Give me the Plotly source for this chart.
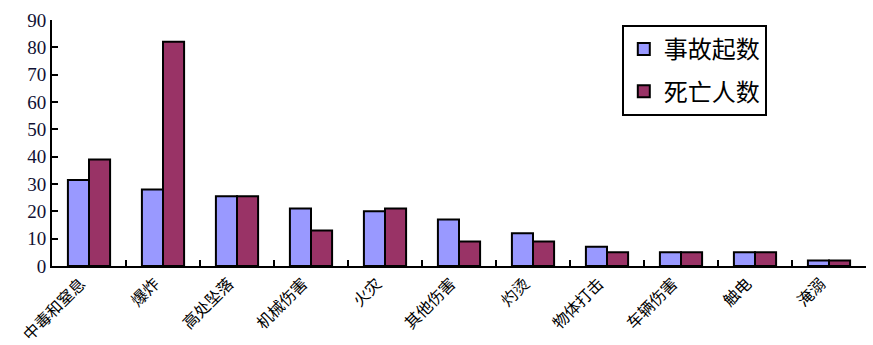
import plotly.graph_objects as go

categories = ["中毒和窒息", "爆炸", "高处坠落", "机械伤害", "火灾", "其他伤害",
              "灼烫", "物体打击", "车辆伤害", "触电", "淹溺"]
accidents = [31.5, 28, 25.5, 21, 20, 17, 12, 7, 5, 5, 2]
deaths = [39, 82, 25.5, 13, 21, 9, 9, 5, 5, 5, 2]
y_ticks = [0, 10, 20, 30, 40, 50, 60, 70, 80, 90]

fig = go.Figure()
fig.add_trace(go.Bar(x=categories, y=accidents, name="事故起数", legendgroup="a",
                     marker=dict(color="#9999FF", line=dict(color="black", width=2))))
fig.add_trace(go.Bar(x=categories, y=deaths, name="死亡人数", legendgroup="b",
                     marker=dict(color="#993366", line=dict(color="black", width=2))))

fig.update_layout(
    width=873, height=345,
    margin=dict(l=52, r=7, t=20, b=79),
    paper_bgcolor="white", plot_bgcolor="white",
    barmode="group", bargap=0.43, bargroupgap=0,
    font=dict(family="Noto Sans CJK SC", color="black"),
    legend=dict(x=0.70, y=0.98, xanchor="left", yanchor="top",
                bordercolor="black", borderwidth=2,
                font=dict(size=24, family="Noto Sans CJK SC"),
                itemwidth=30, tracegroupgap=8),
    xaxis=dict(showline=True, linecolor="black", linewidth=2,
               ticks="inside", ticklen=6, tickwidth=2, tickcolor="black",
               tickson="boundaries", tickangle=-45, automargin=False,
               ticklabelshift=-8, ticklabelstandoff=0,
               tickfont=dict(size=16, family="Noto Sans CJK SC", color="black"),
               showgrid=False, zeroline=False),
    yaxis=dict(range=[0, 90], tickvals=y_ticks, showline=True, linecolor="black",
               linewidth=2, ticks="inside", ticklen=6, tickwidth=2, tickcolor="black",
               automargin=False,
               tickfont=dict(size=19, family="Liberation Serif", color="#111133"),
               showgrid=False, zeroline=False),
)

fig.write_html("out.html")
